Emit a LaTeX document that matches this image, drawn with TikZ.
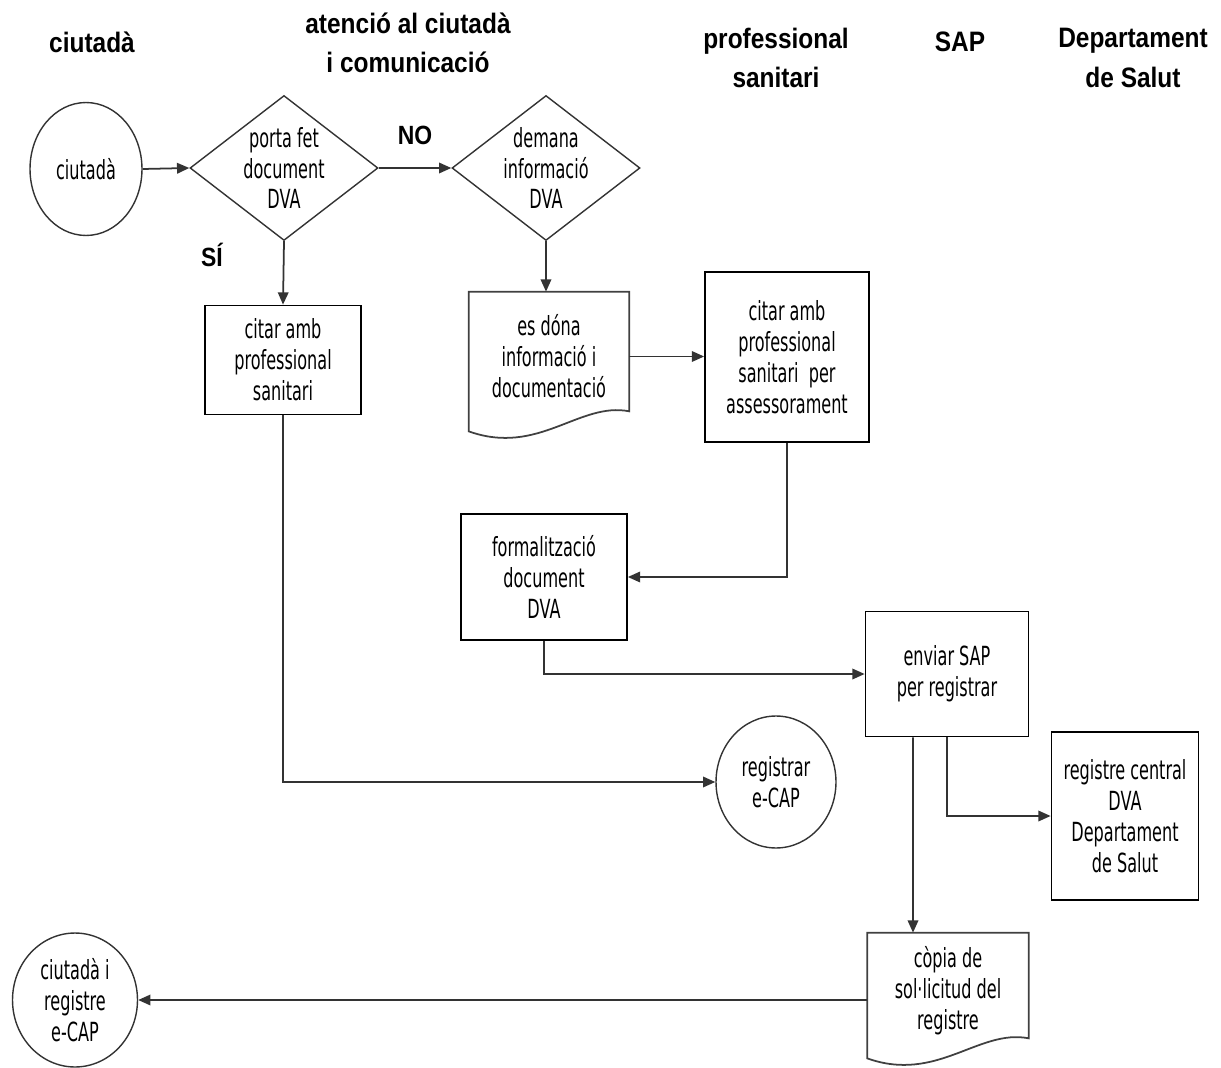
\documentclass[tikz,border=0pt]{standalone}
\usepackage{fontspec}
\setmainfont[FakeStretch=0.61]{DejaVu Sans}
\newfontfamily\headfont[FakeStretch=0.87]{Liberation Sans}
\usetikzlibrary{positioning,calc,arrows.meta,shapes.geometric}

\tikzset{
  every node/.style={align=center, inner sep=1pt, font=\fontsize{15}{17.6}\selectfont},
  head/.style={font=\headfont\bfseries\fontsize{16}{22.5}\selectfont},
  yesno/.style={font=\headfont\bfseries\fontsize{15}{18}\selectfont},
  box/.style={draw, line width=1pt},
  circ/.style={draw=black!80, ellipse, inner sep=0pt, line width=0.8pt},
  choice/.style={draw=black!80, diamond, aspect=1.3, inner sep=-4pt, line width=0.8pt},
  doc/.style={inner sep=0pt},
  docline/.style={draw=black!75, line width=1pt},
  conn/.style={draw=black!80, line width=1pt},
  arr/.style={conn, -{Triangle[length=7pt,width=6pt]}}
}

\begin{document}
\begin{tikzpicture}[x=0.02cm, y=-0.02cm]
	\useasboundingbox (0,0) rectangle (1221,1068);

	% capcaleres
	\node[head] (hciu) at (92, 42)   {ciutadà};
	\node[head] (hate) at (408, 43)  {atenció al ciutadà\\i comunicació};
	\node[head] (hpro) at (776, 58)  {professional\\sanitari};
	\node[head] (hsap) at (960, 42)  {SAP};
	\node[head] (hdep) at (1133, 58) {Departament\\de Salut};

	\node[circ, minimum width=2.24cm, minimum height=2.66cm] (ciu) at (86, 169) {ciutadà};
	\node[choice, minimum width=3.76cm, minimum height=2.9cm] (porta)   at (284, 168) {porta fet\\document\\DVA};
	\node[choice, minimum width=3.76cm, minimum height=2.9cm] (demana)  at (546, 168) {demana\\informació\\DVA};
	\node[yesno] (no) at (415, 135) {NO};
	\node[yesno] (si) at (212, 255) {SÍ};

	\node[box, minimum width=3.12cm, minimum height=2.18cm] (cita)  at (283, 360) {citar amb\\professional\\sanitari};
	\node[doc, minimum width=3.2cm, minimum height=2.58cm]  (info)  at (549, 356.5) {es dóna\\informació i\\documentació};
	\node[box, minimum width=3.28cm, minimum height=3.4cm]  (citb)  at (787, 357) {citar amb\\professional\\sanitari \ per\\assessorament};
	\node[box, minimum width=3.32cm, minimum height=2.52cm] (form)  at (544, 577) {formalització\\document\\DVA};
	\node[box, minimum width=3.26cm, minimum height=2.5cm]  (env)   at (947, 674) {enviar SAP\\per registrar};
	\node[circ, minimum width=2.4cm, minimum height=2.64cm] (reg)   at (776, 782) {registrar\\e-CAP};
	\node[box, minimum width=2.94cm, minimum height=3.36cm] (cent)  at (1125, 816) {registre central\\DVA\\Departament\\de Salut};
	\node[doc, minimum width=3.22cm, minimum height=2.3cm]  (copia) at (948, 990.5) {còpia de\\sol·licitud del\\registre};
	\node[circ, minimum width=2.5cm, minimum height=2.68cm] (fi)    at (75, 1000) {ciutadà i\\registre\\e-CAP};

	% documents
	\draw[docline] (info.north west) -- (info.north east) -- ([yshift=0.2cm]info.south east)
		.. controls ([shift={(-1cm,0.4cm)}]info.south east) and ([shift={(1.4cm,-0.7cm)}]info.south west)
		.. ([yshift=-0.2cm]info.south west) -- cycle;
	\draw[docline] (copia.north west) -- (copia.north east) -- ([yshift=0.2cm]copia.south east)
		.. controls ([shift={(-1cm,0.4cm)}]copia.south east) and ([shift={(1.4cm,-0.7cm)}]copia.south west)
		.. ([yshift=-0.2cm]copia.south west) -- cycle;

	\draw[arr] (ciu.east) -- (porta.west);
	\draw[arr] (porta.east) -- (demana.west);
	\draw[arr] (porta.south) -- (cita.north);
	\draw[arr] (demana.south) -- (demana.south |- info.north);
	\draw[arr] (info.east) -- (citb.west |- info.east);
	\draw[arr] (citb.south) |- (form.east);
	\draw[arr] (form.south) |- (env.west);
	\draw[arr] (cita.south) |- (reg.west);
	\draw[arr] (env.south) |- (cent.west);
	\draw[arr] ([xshift=-0.68cm]env.south) -- ([xshift=-0.7cm]copia.north);
	\draw[arr] (copia.west |- fi.east) -- (fi.east);
\end{tikzpicture}
\end{document}
